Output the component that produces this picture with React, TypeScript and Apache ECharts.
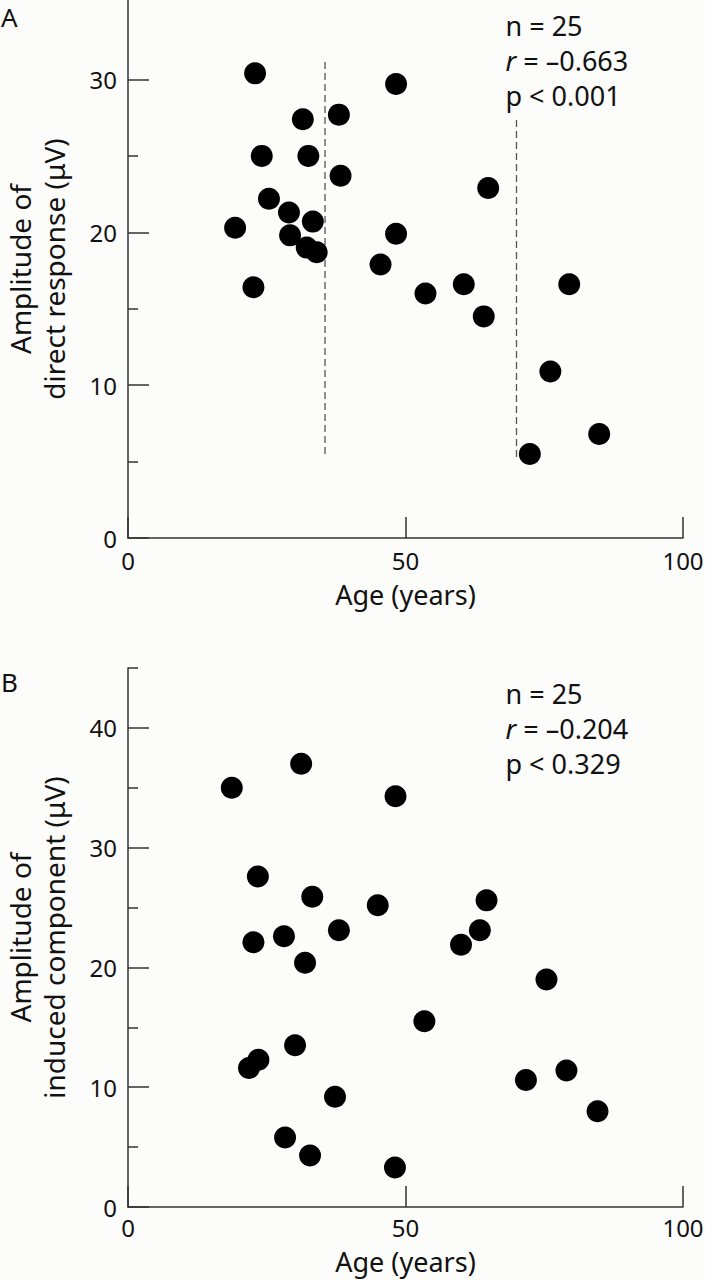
import React, { useEffect, useRef } from "react";
import * as echarts from "echarts";

// Panel A: direct response
const directAge = [22.9, 31.5, 38.0, 24.1, 32.5, 38.3, 25.4, 29.0, 33.3, 19.3, 29.2, 32.2, 34.0, 22.6, 48.3, 64.9, 48.3, 45.5, 53.6, 60.5, 79.5, 64.1, 76.1, 84.9, 72.4];
const directAmp = [30.4, 27.4, 27.7, 25.0, 25.0, 23.7, 22.2, 21.3, 20.7, 20.3, 19.8, 19.0, 18.7, 16.4, 29.7, 22.9, 19.9, 17.9, 16.0, 16.6, 16.6, 14.5, 10.9, 6.8, 5.5];

// Panel B: induced component
const inducedAge = [18.7, 31.2, 23.4, 33.2, 22.6, 28.1, 38.0, 31.9, 23.5, 21.8, 30.1, 37.3, 28.3, 32.8, 48.2, 45.0, 64.6, 63.4, 60.0, 75.4, 53.4, 71.7, 79.0, 84.6, 48.1];
const inducedAmp = [35.0, 37.0, 27.6, 25.9, 22.1, 22.6, 23.1, 20.4, 12.3, 11.6, 13.5, 9.2, 5.8, 4.3, 34.3, 25.2, 25.6, 23.1, 21.9, 19.0, 15.5, 10.6, 11.4, 8.0, 3.3];

// Dashed reference lines in panel A: [age, from amplitude, to amplitude]
const dashLinesA = [
  [35.5, 5.5, 31.3],
  [70.0, 5.3, 27.5],
];

// Axis ticks
const xTicks = [0, 50, 100];
const yTicksA = [0, 10, 20, 30];
const yMinorA = [5, 15, 25];
const yTicksB = [0, 10, 20, 30, 40];
const yMinorB = [5, 15, 25, 35, 45];

// Texts
const statsA = ["n = 25", "{i|r} = –0.663", "p < 0.001"];
const statsB = ["n = 25", "{i|r} = –0.204", "p < 0.329"];
const yTitleA = "Amplitude of\ndirect response (μV)";
const yTitleB = "Amplitude of\ninduced component (μV)";
const xTitle = "Age (years)";

const FONT = "Noto Sans";
const INK = "#111";
const AXIS = "#333";

export default function App() {
  const ref = useRef<HTMLDivElement>(null);
  useEffect(() => {
    document.body.style.margin = "0";
    const chart = echarts.init(ref.current!, null, { renderer: "svg" });

    const xAxisFor = (gi: number, gap: number, labelMargin: number) => ({
      type: "value",
      gridIndex: gi,
      min: 0,
      max: 100,
      axisLine: { show: true, lineStyle: { color: AXIS, width: 1.5 } },
      axisTick: { show: true, inside: true, length: 21, customValues: xTicks, lineStyle: { color: AXIS, width: 1.5 } },
      axisLabel: { show: true, customValues: xTicks, margin: labelMargin, fontSize: 24, lineHeight: 24, fontFamily: FONT, color: INK },
      splitLine: { show: false },
      name: xTitle,
      nameLocation: "middle",
      nameGap: gap,
      nameTextStyle: { fontSize: 27, lineHeight: 27, fontFamily: FONT, color: INK },
    });

    const yMain = (gi: number, max: number, ticks: number[], title: string) => ({
      type: "value",
      gridIndex: gi,
      min: 0,
      max,
      axisLine: { show: true, lineStyle: { color: AXIS, width: 1.5 } },
      axisTick: { show: true, inside: true, length: 21, customValues: ticks, lineStyle: { color: AXIS, width: 1.5 } },
      axisLabel: { show: true, customValues: ticks, margin: 11, fontSize: 24, fontFamily: FONT, color: INK },
      splitLine: { show: false },
      name: title,
      nameLocation: "middle",
      nameRotate: 90,
      nameGap: 57,
      nameTextStyle: { fontSize: 28, lineHeight: 34, fontFamily: FONT, color: INK },
    });

    const yMinor = (gi: number, max: number, ticks: number[]) => ({
      type: "value",
      gridIndex: gi,
      min: 0,
      max,
      position: "left",
      axisLine: { show: false },
      axisTick: { show: true, inside: true, length: 10, customValues: ticks, lineStyle: { color: AXIS, width: 1.5 } },
      axisLabel: { show: false },
      splitLine: { show: false },
    });

    const statBlock = (lines: string[], yCenter: number) => ({
      type: "text",
      x: 505.5,
      y: yCenter,
      style: {
        text: lines.join("\n"),
        fontSize: 27,
        fontFamily: FONT,
        fill: INK,
        lineHeight: 35,
        align: "left",
        verticalAlign: "middle",
        textAlign: "left",
        textVerticalAlign: "middle",
        rich: { i: { fontStyle: "italic", fontSize: 27, fontFamily: FONT, fill: INK, lineHeight: 35 } },
      },
    });

    const dashSeries = dashLinesA.map((d) => ({
      type: "line",
      xAxisIndex: 0,
      yAxisIndex: 0,
      data: [
        [d[0], d[1]],
        [d[0], d[2]],
      ],
      showSymbol: false,
      symbol: "none",
      lineStyle: { color: "#555", width: 1.3, type: [7, 4] },
      z: 1,
      silent: true,
    }));

    chart.setOption({
      animation: false,
      backgroundColor: "#fcfcfa",
      grid: [
        { left: 128, top: 0, width: 555, height: 538, containLabel: false, outerBoundsMode: "none" },
        { left: 128, top: 668, width: 555, height: 539, containLabel: false, outerBoundsMode: "none" },
      ],
      xAxis: [xAxisFor(0, 43, 10), xAxisFor(1, 41, 8)],
      yAxis: [
        yMain(0, 35.2, yTicksA, yTitleA),
        yMain(1, 45, yTicksB, yTitleB),
        yMinor(0, 35.2, yMinorA),
        yMinor(1, 45, yMinorB),
      ],
      series: [
        ...dashSeries,
        {
          type: "scatter",
          xAxisIndex: 0,
          yAxisIndex: 0,
          symbolSize: 22,
          itemStyle: { color: "#000", opacity: 1 },
          data: directAge.map((a, i) => [a, directAmp[i]]),
          z: 3,
        },
        {
          type: "scatter",
          xAxisIndex: 1,
          yAxisIndex: 1,
          symbolSize: 22,
          itemStyle: { color: "#000", opacity: 1 },
          data: inducedAge.map((a, i) => [a, inducedAmp[i]]),
          z: 3,
        },
      ],
      graphic: [
        {
          type: "text",
          x: 1,
          y: 17,
          style: { text: "A", fontSize: 26, lineHeight: 26, fontFamily: FONT, fill: INK, align: "left", verticalAlign: "middle", textAlign: "left", textVerticalAlign: "middle" },
        },
        {
          type: "text",
          x: 1,
          y: 682,
          style: { text: "B", fontSize: 26, lineHeight: 26, fontFamily: FONT, fill: INK, align: "left", verticalAlign: "middle", textAlign: "left", textVerticalAlign: "middle" },
        },
        statBlock(statsA, 60),
        statBlock(statsB, 728),
      ],
    });
    return () => chart.dispose();
  }, []);
  return <div ref={ref} style={{ width: 705, height: 1280 }} />;
}
